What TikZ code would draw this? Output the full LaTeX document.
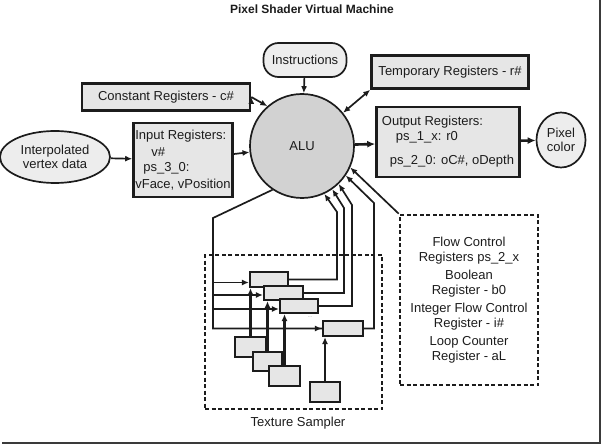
\documentclass[tikz,border=0pt]{standalone}
\usepackage{fontspec}
\setmainfont{Liberation Sans}
\usetikzlibrary{arrows.meta,shapes.geometric}

\definecolor{ink}{HTML}{1C1C1C}
\definecolor{boxgrey}{HTML}{E6E6E6}
\definecolor{alugrey}{HTML}{D2D2D2}
\definecolor{framegrey}{HTML}{3A3A3A}

\tikzset{
  regbox/.style={draw=ink, line width=2.6pt, fill=boxgrey, inner sep=0pt},
  pill/.style={draw=ink, line width=1.7pt, fill=boxgrey!70, rounded corners=15pt, inner sep=0pt},
  oval/.style={ellipse, draw=ink, line width=1.7pt, fill=boxgrey!70, inner sep=0pt, align=center},
  dashbox/.style={draw=ink, line width=2.6pt, dash pattern=on 4pt off 2.5pt, inner sep=0pt},
  texbox/.style={draw=ink, line width=2.2pt, fill=boxgrey, inner sep=0pt},
  feed/.style={draw=ink, line width=1.7pt, -{Latex[length=7pt,width=6pt]}},
  bigfeed/.style={draw=ink, line width=2.6pt, -{Latex[length=8pt,width=7pt]}},
}

\begin{document}
\begin{tikzpicture}[x=1pt, y=-1pt, font=\fontsize{13}{14.5}\selectfont, text=ink]
  \useasboundingbox (0,0) rectangle (604,446);

  % frame shadow
  \draw[framegrey, line width=2.8pt] (2,443) -- (600,443) -- (600,0);

  \node (title) at (312,9) {\fontsize{12}{13}\selectfont\bfseries Pixel Shader Virtual Machine};

  % main blocks
  \node (instr) [pill, minimum width=83, minimum height=34] at (305,60) {Instructions};
  \node (const) [regbox, minimum width=168, minimum height=27] at (166,97) {Constant Registers - c\#};
  \node (temp) [regbox, minimum width=157, minimum height=33] at (450,72) {Temporary Registers - r\#};
  \node (vert) [oval, minimum width=110, minimum height=52] at (55,157) {Interpolated\\vertex data};
  \node (inreg) [regbox, minimum width=99, minimum height=74, align=left] at (183,160)
    {Input Registers:\\[2pt]\hspace*{16pt}v\#\\[1pt]\hspace*{8pt}ps\_3\_0:\\[2pt]vFace, vPosition};
  \node (alu) [circle, draw=ink, line width=1.7pt, fill=alugrey, minimum size=104, inner sep=0pt] at (302,146) {ALU};
  \node (outreg) [regbox, minimum width=143, minimum height=70, align=left] at (448,142)
    {Output Registers:\\\hspace*{14pt}ps\_1\_x: r0\\[10pt]\hspace*{8pt}ps\_2\_0: oC\#, oDepth};
  \node (pix) [oval, minimum width=49, minimum height=55] at (561,140) {Pixel\\color};

  % flow control registers
  \node (flow) [dashbox, minimum width=138, minimum height=170, align=center] at (469,300)
    {Flow Control\\Registers ps\_2\_x\\[4pt]Boolean\\Register - b0\\[4pt]Integer Flow Control\\Register - i\#\\[4pt]Loop Counter\\Register - aL};

  % texture sampler
  \node (tex) [dashbox, minimum width=177, minimum height=154] at (293.5,332) {};
  \node (texlbl) at (298,423) {Texture Sampler};

  \node (a1) [texbox, minimum width=38, minimum height=15] at (269,279.5) {};
  \node (a2) [texbox, minimum width=39, minimum height=14] at (283.5,293) {};
  \node (a3) [texbox, minimum width=38, minimum height=14] at (299,306) {};
  \node (a4) [texbox, minimum width=40, minimum height=15] at (343,328.5) {};
  \node (dots) [text=gray, font=\fontsize{5}{5}\selectfont] at (310,317) {...};

  \node (b1) [texbox, minimum width=31, minimum height=20] at (250.5,347) {};
  \node (b2) [texbox, minimum width=29, minimum height=19] at (267.5,361.5) {};
  \node (b3) [texbox, minimum width=31, minimum height=20] at (284.5,376) {};
  \node (b4) [texbox, minimum width=30, minimum height=20] at (325,392) {};

  \coordinate (fk) at (213,218);

  % connectors
  \path[feed]
    (instr) edge (alu)
    (const.east) edge (alu.131)
    (vert) edge (inreg)
    (inreg) edge (alu);
  \draw[feed, {Latex[length=7pt,width=6pt]}-{Latex[length=7pt,width=6pt]}] (temp.south west) -- (alu.39);
  \path[bigfeed]
    (alu) edge (outreg)
    (outreg) edge (pix);

  % sampler feeds
  \draw[ink, line width=1.7pt] (alu.-124) -- (fk) |- (a4.west);
  \draw[feed] (fk) |- ([yshift=-3pt]a1.west);
  \draw[feed] (fk) |- ([yshift=-2pt]a2.west);
  \draw[feed] (fk) |- ([yshift=-3pt]a3.west);
  \draw[feed] (fk |- a4.west) -- (a4.west);

  \draw[feed, line width=2.4pt] (b1.north) -- (b1.north |- a1.south);
  \draw[feed, line width=2.4pt] (b2.north) -- (b2.north |- a2.south);
  \draw[feed, line width=2.4pt] (b3.north) -- (b3.north |- a3.south);
  \draw[feed, line width=2.4pt] (b4.north) -- (b4.north |- a4.south);

  \draw[feed] (a1.east) -| (337,212) -- (alu.-65);
  \draw[feed] (a2.east) -| (344,208) -- (alu.-55);
  \draw[feed] (a3.east) -| (352,205) -- (alu.-46);
  \draw[feed] (a4.east) -| (374,203) -- (alu.-34);
  \draw[feed] (flow.north west) -- (alu.-24);

\end{tikzpicture}
\end{document}
